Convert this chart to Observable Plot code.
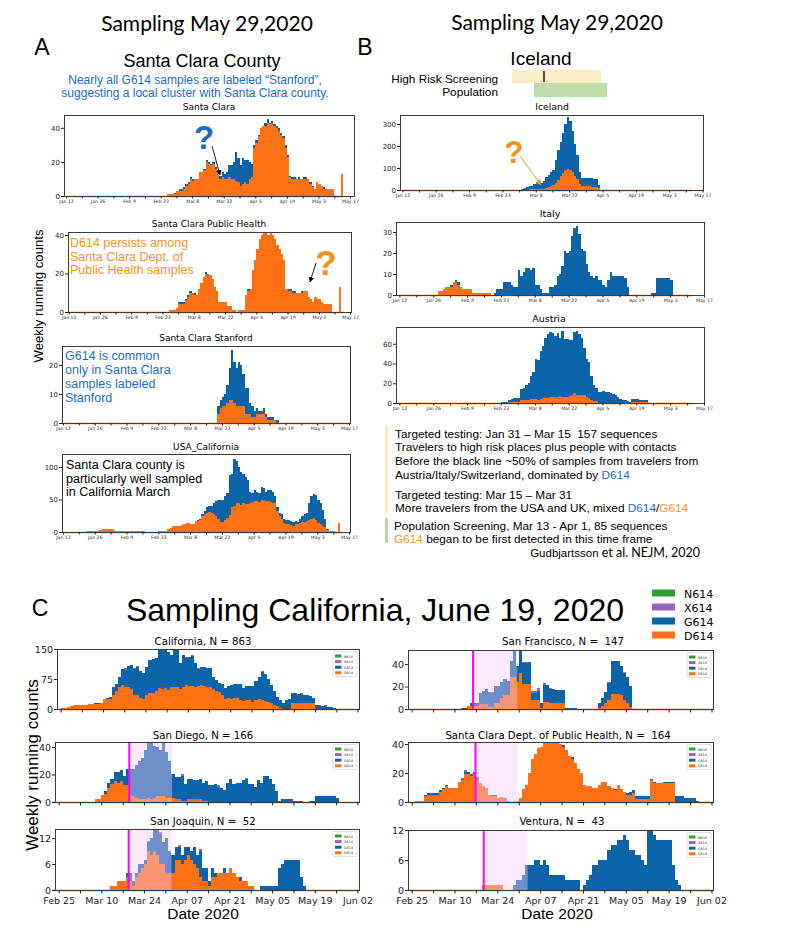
<!DOCTYPE html>
<html><head><meta charset="utf-8">
<script src="https://cdn.jsdelivr.net/npm/d3@7"></script>
<script src="https://cdn.jsdelivr.net/npm/@observablehq/plot@0.6"></script>
<style>
body{margin:0;background:#fff;}
#root{position:relative;width:807px;height:934px;overflow:hidden;background:#fff;}
#ov{position:absolute;left:0;top:0;pointer-events:none;}
</style></head><body><div id="root"></div>
<script>
const ORANGE="#fd7014", BLUE="#0a64a7", PURPLE="#9467bd", GREEN="#2ca02c";
const TXTBLUE="#1b6ec2", TXTORANGE="#f5921e";

// ---------- tick labels ----------
const tickLabelsAB=["Jan 12","Jan 26","Feb 9","Feb 23","Mar 8","Mar 22","Apr 5","Apr 19","May 3","May 17"];
const tickLabelsC=["Feb 25","Mar 10","Mar 24","Apr 07","Apr 21","May 05","May 19","Jun 02"];

// ---------- Panel A ----------
const scStart="2020-02-26";
const scTotal=[1,1,1,2,3,4,4,5,7,8, 11,10,10,10,14,14,16,21,20,19, 20,17,15,12,14,13,14,18,18,20, 26,22,18,22,21,21,20,19,30,33, 36,40,41,43,45,43,44,42,41,40, 37,35,30,24,12,11,11,10,11,10, 11,11,10,8,6,4,8,7,6,5, 4,4,4,4,0,0,0,13];
const scD614=[1,1,1,1,3,3,3,4,6,7, 10,9,10,10,14,14,15,20,19,18, 19,16,14,10,11,10,10,11,10,10, 9,8,6,7,8,7,10,11,28,31, 35,40,41,41,43,42,43,41,40,38, 36,34,28,23,11,10,10,10,10,10, 10,10,10,7,5,4,8,7,6,4, 4,4,4,4,0,0,0,13];

const scphStart="2020-02-26";
const scphTotal=[1,1,1,2,5,5,5,7,9,11, 10,10,9,12,15,18,21,20,19,17, 13,11,5,5,5,5,3,3,1,1, 0,1,1,1,9,12,12,22,27,33, 38,40,41,41,40,41,40,38,35,33, 30,27,12,12,12,11,11,10,10,11, 11,11,8,7,5,8,7,7,5,4, 4,4,4,0,0,0,13];
const scphD614=[1,1,1,2,4,4,4,6,8,10, 10,9,9,12,15,18,20,19,19,17, 13,11,5,5,5,5,3,3,1,1, 0,1,1,1,9,11,12,22,27,33, 38,40,41,41,40,41,40,38,35,33, 30,27,12,11,11,10,10,10,10,10, 11,11,8,7,5,8,7,7,5,4, 4,4,4,0,0,0,13];

const stanStart="2020-03-20";
const stanTotal=[6,8,9,10,13,19,25,21,19,21, 20,17,12,12,7,6,4,5,4,4, 5,3,2,2,2,1,1];
const stanD614=[3,5,6,6,7,8,8,7,6,6, 6,6,3,3,3,2,2,3,3,3, 3,2,1,1,1,1,0];

const usaStart="2020-01-22";
const usaTotal=[1,1,1,1,2,2,3,4,4,4, 4,4,3,2,1,1,1,1,1,1, 1,1,1,1,1,1,0,0,0,0, 0,0,1,1,1,2,4,6,9,10,
 10,10,11,12,14,14,13,13,17,18, 20,28,32,38,40,40,45,48,49,49, 50,55,60,88,90,112,110,100,93,90, 85,80,62,60,65,62,60,70,68,62,
 64,65,62,55,38,30,27,20,18,18, 17,16,17,15,20,25,28,30,45,55, 58,57,50,45,34,20,5,2,2,2, 0,14];
const usaD614=[1,1,1,1,2,2,3,4,4,4, 4,4,3,2,1,1,1,1,1,1, 1,1,1,1,1,1,0,0,0,0, 0,0,1,1,1,2,4,6,9,10,
 10,10,11,12,14,14,13,13,17,17, 18,25,28,30,31,29,27,24,20,15, 15,19,22,26,38,40,44,44,42,45, 43,43,45,46,48,48,46,50,49,47,
 47,46,45,44,32,24,20,14,12,12, 11,10,12,12,14,15,16,17,18,20, 21,18,14,12,10,8,3,1,1,1, 0,14];

// ---------- Panel B ----------
const icStart="2020-03-02";
const icTotal=[5,10,12,18,20,28,30,28,30,42, 60,68,80,90,135,180,220,260,300,330, 315,270,210,160,80,55,55,55,55,55, 52,50,25];
const icD614=[1,2,2,3,3,3,4,5,6,5, 10,15,20,25,32,45,62,78,90,95, 92,82,65,50,28,20,17,16,16,15, 13,12,8];

const itStart="2020-01-28";
const itTotal=[2,2,3,4,4,5,6,7,6,4, 3,3,3,3,1,1,1,1,1,1, 1,1,0,1,3,3,3,6,6,6, 5,4,4,12,9,11,13,13,12,13,
 5,5,3,1,1,1,4,4,5,9, 10,14,21,20,21,28,32,33,29,22, 21,15,11,9,8,9,7,7,5,4, 7,11,9,9,9,9,9,8,4,0,
 0,0,0,0,0,0,0,0,1,1, 8,8,8,8,8,8,7];
const itD614=[2,2,3,4,4,4,6,6,5,4, 3,3,3,3,1,1,1,1,1,1, 1,1];

const atStart="2020-02-23";
const atTotal=[1,1,1,3,4,5,5,5,14,15, 18,20,27,31,45,44,53,58,66,70, 72,71,68,71,66,73,65,65,64,64, 72,73,70,66,56,45,42,27,18,15, 11,11,12,11,11,10,9,8,6,4, 3,3,2,1,4,4,4,3,3,3, 3];
const atD614=[0,0,0,1,1,1,1,1,3,3, 3,3,4,4,4,3,4,5,5,5, 6,6,6,6,7,6,6,6,7,8, 10,8,8,8,8,6,5,3,2,2, 0,0,0,0,0,0,0,0,0,0, 0,0,0,0,1,1,1,1,1,1, 1];

// ---------- Panel C ----------
const calStart="2020-02-25";
const calTotal=[2,3,5,7,10,10,10,10,11,13, 13,14,14,15,25,28,30,55,62,80, 100,98,108,110,100,105,95,90,105,122, 125,128,150,150,148,142,135,150,150,115,
 135,128,130,133,115,100,105,105,103,103, 80,72,65,62,52,58,60,62,62,62, 52,58,58,57,70,80,92,88,75,60, 45,30,22,16,22,25,38,40,38,38, 36,34,33,27,10,10,8,8,6,5, 3,1];
const calD614=[2,3,5,7,10,10,10,10,11,12, 12,13,13,14,24,25,25,35,45,55, 60,55,55,50,35,35,28,25,35,40, 40,45,52,50,52,48,55,55,55,50,
 55,60,58,58,55,57,60,58,55,55, 50,45,42,35,25,28,25,28,28,22, 20,22,22,18,22,25,22,20,18,15, 10,8,3,0,0,0,14,14,14,14, 14,14,14,14,0,0,0,0,0,0, 0,0];
const calX614=[[21,2],[25,2],[29,1.5],[34,2],[41,2],[43,2],[45,1.5],[66,2],[76,2],[79,1.5],[87,1]];
const calN614=[[21,2],[24,2],[37,3]];

const sfStart="2020-03-12";
const sfTotal=[1,1,3,5,5,5,14,16,18,15, 14,20,20,24,27,25,43,52,38,52, 41,41,42,14,14,16,5,21,21,18, 18,17,17,17,1,1,1,1,0,0, 0,0,0,0,0,5,10,15,23,43, 43,43,38,32,28,20];
const sfD614=[0,0,3,3,3,3,4,4,4,2, 2,5,5,10,12,12,28,28,24,32, 22,22,22,8,8,8,1,6,6,5, 5,5,5,5,0,0,0,0,0,0, 0,0,0,0,0,1,3,5,8,13, 13,13,12,8,5,2];
const sfX614=[[26,1],[33,2],[35,1],[36,1],[37,1],[39,2],[40,2],[41,3],[43,1],[45,1],[64,1],[69,1]];
const sfN614=[[43,1]];

const sdStart="2020-03-08";
const sdTotal=[2,2,5,8,14,17,22,22,23,19, 24,24,24,27,30,32,38,44,44,41, 40,38,44,36,30,20,18,18,19,13, 17,17,16,16,17,14,15,12,12,13,
 11,10,9,14,17,13,14,14,16,17, 13,13,11,16,14,19,19,17,13,8, 1,2,2,2,2,1,1,1,0,0, 1,1,4,4,4,4,4,4,4,3];
const sdD614=[2,2,5,6,10,13,15,14,15,12, 12,5,4,3,2,2,2,3,2,3, 4,4,4,3,3,3,2,2,1,1, 2,2,2,2,2,1,1];
const sdX614=[[40,1],[52,1],[61,0.6]];

const scdStart="2020-02-26";
const scdTotal=[1,1,1,5,6,6,6,6,8,10, 12,10,10,10,14,16,21,21,19,20, 16,13,11,10,5,5,5,3,3,3, 1,0,1,1,3,9,12,20,30,33,
 37,38,41,41,41,41,41,40,39,36, 32,31,27,23,20,12,11,11,10,10, 12,14,14,11,10,9,12,9,7,6, 7,8,4,4,4,4,4,16,14,13, 13,14,14,14,14,4,4,4,3,3, 3,3,1];
const scdD614=[1,1,1,4,5,5,5,5,7,9, 11,10,10,10,14,15,19,19,18,19, 15,13,11,10,5,4,4,3,3,3, 1,0,1,1,3,9,12,20,30,33,
 37,38,41,41,41,41,41,40,38,36, 32,30,27,23,20,12,11,11,10,10, 12,14,14,11,10,8,12,9,7,5, 5,6,2,2,2,2,2,15,13,13, 13,13,13,13,13];
const scdX614=[[16,0.6],[17,1],[20,1],[21,1],[29,0.5]];

const sjStart="2020-03-13";
const sjTotal=[1,1,2,2,2,4,4,2,4,6, 6,7,11,12,14,14,13,11,12,9, 8,10,10,8,10,10,9,10,8,9, 5,5,2,5,4,4,4,5,4,5, 4,3,3,2,2,1,1,0,0,1, 1,1,1,1,1,5,6,7,7,7, 7,7,3,1];
const sjD614=[1,1,2,2,2,3,2,1,3,4, 5,6,9,8,9,8,6,6,4,4, 4,7,7,6,7,8,7,6,5,3, 2,2,1,3,3,4,4,4,4,5, 4,3,2,2,2,1,1];
const sjX614=[[29,0.4],[33,0.4],[39,0.4],[46,0.4]];

const vtStart="2020-03-19";
const vtTotal=[1,1,1,1,1,1,1,0,0,0, 1,2,2,3,5,5,5,6,6,5, 6,5,3,3,3,3,3,2,2,2, 2,2,0,1,2,3,5,5,6,6, 6,8,9,9,10,10,11,10,8,8, 7,7,6,5,12,12,11,10,10,10, 10,10,5,2,1];
const vtD614=[1,1,1,1,1,1,1];

// screening windows (days after Feb 25): order SF, San Diego, SC DPH, San Joaquin, Ventura
const shadeStartDay=[19.9,23.0,20.7,22.8,23.4];
const shadeEndDay=[34.5,37.2,34.7,37.0,37.9];

// ---------- helpers ----------
const baseAB=new Date(Date.UTC(2020,0,12));
const baseC=new Date(Date.UTC(2020,1,25));
const parseLab=d3.utcParse("%b %e %Y");
const dayOfISO=(s,base)=>d3.utcDay.count(base,new Date(s+"T00:00:00Z"));
const dayOfLab=(l,base)=>d3.utcDay.count(base,parseLab(l+" 2020"));
const series=(start,base,vals)=>{const s=dayOfISO(start,base);return vals.map((v,i)=>({d:s+i,v}));};
function capsOf(total,start,base,caps,below){
  const s=dayOfISO(start,base);
  const extra=new Map((below||[]).map(([d,a])=>[d,a]));
  return caps.map(([d,a])=>{const y1=total[d-s]+(extra.get(d)||0);return {d,y1,y2:y1+a};});
}
const root=document.getElementById("root");

function panel(c){
  const [fx0,fy0,fx1,fy1]=c.frame;
  const mL=30,mR=6,mT=6,mB=22;
  const tickDays=c.labels.map(l=>dayOfLab(l,c.base));
  const lab=new Map(tickDays.map((d,i)=>[d,c.labels[i]]));
  const weekly=d3.range(tickDays[0],tickDays[tickDays.length-1]+0.5,7);
  const marks=[];
  marks.push(Plot.ruleY([0],{x1:()=>c.baseRange[0],x2:()=>c.baseRange[1],stroke:ORANGE,strokeWidth:1.4}));
  for(const L of c.layers) marks.push(Plot.rect(L.data,{x1:"d",x2:d=>d.d+1,y1:()=>0,y2:"v",fill:L.fill,shapeRendering:"crispEdges",clip:true}));
  for(const C of (c.caps||[])) marks.push(Plot.rect(C.data,{x1:"d",x2:d=>d.d+1,y1:"y1",y2:"y2",fill:C.fill,shapeRendering:"crispEdges",clip:true}));
  if(c.shade){
    marks.push(Plot.rect([c.shade],{x1:d=>d[0],x2:d=>d[1],fill:"#fac8fa",fillOpacity:0.42}));
    marks.push(Plot.ruleX([c.shade[0]],{stroke:"#ff00ff",strokeWidth:2}));
  }
  marks.push(Plot.frame({stroke:"#3c3c3c",strokeWidth:1}));
  marks.push(Plot.axisY({ticks:c.yticks,tickSize:3,tickPadding:1.5,fontSize:c.yfs,label:null,tickFormat:d=>String(d)}));
  marks.push(Plot.axisX({ticks:weekly,tickSize:c.xts,tickPadding:c.xpad,fontSize:c.xfs,label:null,
    tickFormat:d=>c.showX===false?"":(lab.get(d)||"")}));
  const svg=Plot.plot({width:fx1-fx0+mL+mR,height:fy1-fy0+mT+mB,marginLeft:mL,marginRight:mR,marginTop:mT,marginBottom:mB,
    x:{domain:c.xdom,label:null},y:{domain:c.ydom,label:null},
    style:{background:"transparent",overflow:"visible",color:"#222",fontFamily:"DejaVu Sans, sans-serif"},marks});
  svg.style.position="absolute";svg.style.left=(fx0-mL)+"px";svg.style.top=(fy0-mT)+"px";
  root.appendChild(svg);
}
const two=(tot,d,start,base)=>[{data:series(start,base,tot),fill:BLUE},{data:series(start,base,d),fill:ORANGE}];

// Panel A
const abCommon={labels:tickLabelsAB,base:baseAB,xfs:4.6,yfs:7,xts:2.5,xpad:1,baseRange:[0,123]};
panel({...abCommon,frame:[64,115,354,196],xdom:[-0.9,127.8],ydom:[0,47.5],yticks:[0,20,40],layers:two(scTotal,scD614,scStart,baseAB)});
panel({...abCommon,frame:[68,232,351,312],xdom:[-0.3,126.4],ydom:[0,41.6],yticks:[0,20,40],layers:two(scphTotal,scphD614,scphStart,baseAB)});
panel({...abCommon,frame:[62,346,350,423],xdom:[-0.4,126.4],ydom:[0,26.5],yticks:[0,10,20],layers:two(stanTotal,stanD614,stanStart,baseAB),baseRange:[0,126]});
panel({...abCommon,frame:[62,454,350,532],xdom:[-0.4,126.4],ydom:[0,120],yticks:[0,50,100],layers:two(usaTotal,usaD614,usaStart,baseAB)});
// Panel B
panel({...abCommon,frame:[400,115,703,190],xdom:[-1,126.2],ydom:[0,341],yticks:[0,100,200,300],layers:two(icTotal,icD614,icStart,baseAB),baseRange:[0,121.5]});
panel({...abCommon,frame:[396,222,704,295],xdom:[-1.4,126],ydom:[0,34.8],yticks:[0,10,20,30],layers:two(itTotal,itD614,itStart,baseAB),baseRange:[0,121.5]});
panel({...abCommon,frame:[396,327,704,403],xdom:[-1.4,126],ydom:[0,77],yticks:[0,20,40,60],layers:two(atTotal,atD614,atStart,baseAB),baseRange:[0,121.5]});
// Panel C
const cCommon={labels:tickLabelsC,base:baseC,xfs:9.5,yfs:9.5,xts:3.5,xpad:3,xdom:[-1.2,98.5],baseRange:[-1.2,98.5]};
panel({...cCommon,frame:[57,649,359,709],ydom:[0,150],yticks:[0,75,150],showX:false,layers:two(calTotal,calD614,calStart,baseC),
  caps:[{data:capsOf(calTotal,calStart,baseC,calX614),fill:PURPLE},{data:capsOf(calTotal,calStart,baseC,calN614,calX614),fill:GREEN}]});
panel({...cCommon,frame:[408,650,713,709],ydom:[0,52.4],yticks:[0,20,40],showX:false,layers:two(sfTotal,sfD614,sfStart,baseC),
  caps:[{data:capsOf(sfTotal,sfStart,baseC,sfX614),fill:PURPLE},{data:capsOf(sfTotal,sfStart,baseC,sfN614,sfX614),fill:GREEN}],shade:[shadeStartDay[0],shadeEndDay[0]]});
panel({...cCommon,frame:[55,742,359,802],ydom:[0,43.6],yticks:[0,20,40],showX:false,layers:two(sdTotal,sdD614,sdStart,baseC),
  caps:[{data:capsOf(sdTotal,sdStart,baseC,sdX614),fill:PURPLE}],shade:[shadeStartDay[1],shadeEndDay[1]]});
panel({...cCommon,frame:[408,742,713,802],ydom:[0,41.4],yticks:[0,20,40],showX:false,layers:two(scdTotal,scdD614,scdStart,baseC),
  caps:[{data:capsOf(scdTotal,scdStart,baseC,scdX614),fill:PURPLE}],shade:[shadeStartDay[2],shadeEndDay[2]]});
panel({...cCommon,frame:[55,829,359,890],ydom:[0,14.1],yticks:[0,6,12],layers:two(sjTotal,sjD614,sjStart,baseC),
  caps:[{data:capsOf(sjTotal,sjStart,baseC,sjX614),fill:PURPLE}],shade:[shadeStartDay[3],shadeEndDay[3]]});
panel({...cCommon,frame:[408,830,713,890],ydom:[0,12],yticks:[0,6,12],layers:two(vtTotal,vtD614,vtStart,baseC),shade:[shadeStartDay[4],shadeEndDay[4]]});

// ---------- overlay text ----------
const ov=d3.select(root).append("svg").attr("id","ov").attr("width",807).attr("height",934);
const defs=ov.append("defs");
[["ahk","#000"],["aho",TXTORANGE]].forEach(([id,col])=>defs.append("marker").attr("id",id).attr("viewBox","0 0 10 10").attr("refX",9).attr("refY",5)
  .attr("markerWidth",6).attr("markerHeight",6).attr("orient","auto").append("path").attr("d","M0,0L10,5L0,10z").attr("fill",col));
const ARIAL="Liberation Sans, Arial, sans-serif", DJV="DejaVu Sans, sans-serif", LATO="Lato, sans-serif";
function txt(x,y,s,o={}){
  const t=ov.append("text").attr("x",x).attr("y",y).attr("font-family",o.f||ARIAL).attr("font-size",o.s||12)
    .attr("fill",o.c||"#000").attr("text-anchor",o.a||"start").style("white-space","pre");
  if(o.w) t.attr("font-weight",o.w);
  if(o.r) t.attr("transform",`rotate(${o.r},${x},${y})`);
  if(Array.isArray(s)) s.forEach(([str,col,fam,sz])=>{const ts=t.append("tspan").text(str);if(col)ts.attr("fill",col);if(fam)ts.attr("font-family",fam);if(sz)ts.attr("font-size",sz);});
  else t.text(s);
  return t;
}
// headers
txt(207,31,"Sampling May 29,2020",{f:LATO,s:21,a:"middle"});
txt(557,29.5,"Sampling May 29,2020",{f:LATO,s:21,a:"middle"});
txt(42,55,"A",{s:23,a:"middle"});
txt(365,55,"B",{s:23,a:"middle"});
txt(202,66.5,"Santa Clara County",{s:18,a:"middle"});
txt(195,83.5,"Nearly all G614 samples are labeled “Stanford”,",{s:12,a:"middle",c:TXTBLUE});
txt(195,97,"suggesting a local cluster with Santa Clara county.",{s:12,a:"middle",c:TXTBLUE});
// panel A titles
txt(209,110,"Santa Clara",{f:DJV,s:9,a:"middle"});
txt(209,227,"Santa Clara Public Health",{f:DJV,s:9,a:"middle"});
txt(206,341,"Santa Clara Stanford",{f:DJV,s:9,a:"middle"});
txt(206,450,"USA_California",{f:DJV,s:9,a:"middle"});
// annotations A
txt(70,247,"D614 persists among",{s:12.5,c:TXTORANGE});
txt(70,260.5,"Santa Clara Dept. of",{s:12.5,c:TXTORANGE});
txt(70,274,"Public Health samples",{s:12.5,c:TXTORANGE});
txt(65,360,"G614 is common",{s:12.5,c:TXTBLUE});
txt(65,374,"only in Santa Clara",{s:12.5,c:TXTBLUE});
txt(65,387.5,"samples labeled",{s:12.5,c:TXTBLUE});
txt(65,401.5,"Stanford",{s:12.5,c:TXTBLUE});
txt(66,468.5,"Santa Clara county is",{s:12.5});
txt(66,482.5,"particularly well sampled",{s:12.5});
txt(66,496,"in California March",{s:12.5});
txt(43,296,"Weekly running counts",{s:13.2,a:"middle",r:-90});
txt(204,149,"?",{s:33,w:"bold",a:"middle",c:TXTBLUE});
ov.append("line").attr("x1",212).attr("y1",146).attr("x2",220).attr("y2",175).attr("stroke","#000").attr("stroke-width",0.9).attr("marker-end","url(#ahk)");
txt(326,275,"?",{s:35,w:"bold",a:"middle",c:TXTORANGE});
ov.append("line").attr("x1",316).attr("y1",263).attr("x2",310).attr("y2",282).attr("stroke","#000").attr("stroke-width",0.9).attr("marker-end","url(#ahk)");
// panel B header
txt(541,65,"Iceland",{s:19,a:"middle"});
txt(498,82.5,"High Risk Screening",{s:11.8,a:"end"});
txt(498,96,"Population",{s:11.8,a:"end"});
ov.append("rect").attr("x",512).attr("y",70).attr("width",89).attr("height",13).attr("fill","#fdedc5");
ov.append("rect").attr("x",534).attr("y",83).attr("width",73).attr("height",14).attr("fill","#bfdcab");
ov.append("line").attr("x1",544).attr("y1",71).attr("x2",544).attr("y2",82).attr("stroke","#000").attr("stroke-width",1.3);
txt(552,110,"Iceland",{f:DJV,s:9.3,a:"middle"});
txt(550,216.5,"Italy",{f:DJV,s:9.5,a:"middle"});
txt(549,321.5,"Austria",{f:DJV,s:9.5,a:"middle"});
txt(514,163,"?",{s:31,w:"bold",a:"middle",c:TXTORANGE});
ov.append("line").attr("x1",520).attr("y1",156).attr("x2",541).attr("y2",185).attr("stroke",TXTORANGE).attr("stroke-width",1).attr("marker-end","url(#aho)");
// panel B notes
ov.append("rect").attr("x",385).attr("y",426).attr("width",3).attr("height",87).attr("fill","#fde9bd");
ov.append("rect").attr("x",385).attr("y",518).attr("width",3).attr("height",25).attr("fill","#b5d9a2");
const NS=11.8;
txt(395,437.5,"Targeted testing: Jan 31 – Mar 15  157 sequences",{s:NS});
txt(395,451,"Travelers to high risk places plus people with contacts",{s:NS});
txt(395,464.5,"Before the black line ~50% of samples from travelers from",{s:NS});
txt(395,478.5,[["Austria/Italy/Switzerland, dominated by "],["D614",TXTBLUE]],{s:NS});
txt(395,498.5,"Targeted testing: Mar 15 – Mar 31",{s:NS});
txt(395,512,[["More travelers from the USA and UK, mixed "],["D614",TXTBLUE],["/"],["G614",TXTORANGE]],{s:NS});
txt(394,529.5,"Population Screening, Mar 13 - Apr 1, 85 sequences",{s:NS});
txt(394,543,[["G614",TXTORANGE],[" began to be first detected in this time frame"]],{s:NS});
txt(700,557,[["Gudbjartsson",null,ARIAL,11.5],[" et al. NEJM, 2020",null,LATO,12.5]],{s:NS,a:"end"});
// panel C header
txt(40,616,"C",{s:23,a:"middle"});
txt(375,620.5,"Sampling California, June 19, 2020",{s:32,a:"middle"});
const legNames=["N614","X614","G614","D614"], legCols=[GREEN,PURPLE,BLUE,ORANGE];
legNames.forEach((n,i)=>{
  ov.append("rect").attr("x",652).attr("y",589.5+i*14).attr("width",23).attr("height",7).attr("fill",legCols[i]);
  txt(684,597.5+i*14,n,{f:DJV,s:11});
});
// subplot titles C
txt(203,645,"California, N = 863",{f:DJV,s:10.2,a:"middle"});
txt(563,645,"San Francisco, N =  147",{f:DJV,s:10.2,a:"middle"});
txt(203,738.5,"San Diego, N = 166",{f:DJV,s:10.2,a:"middle"});
txt(558,738.5,"Santa Clara Dept. of Public Health, N =  164",{f:DJV,s:10.2,a:"middle"});
txt(203,825,"San Joaquin, N =  52",{f:DJV,s:10.2,a:"middle"});
txt(562,825,"Ventura, N =  43",{f:DJV,s:10.2,a:"middle"});
txt(38,765,"Weekly running counts",{s:17,a:"middle",r:-90});
txt(203,918.5,"Date 2020",{s:15.5,a:"middle"});
txt(557,918.5,"Date 2020",{s:15.5,a:"middle"});
// tiny in-plot legends
[[359,649],[713,650],[359,742],[713,742],[359,829],[713,830]].forEach(([rx,ty])=>{
  const bx=rx-26,by=ty+2.5;
  ov.append("rect").attr("x",bx).attr("y",by).attr("width",24).attr("height",25).attr("fill","#fff").attr("stroke","#ccc").attr("stroke-width",0.6).attr("rx",1);
  legNames.forEach((n,i)=>{
    ov.append("rect").attr("x",bx+2).attr("y",by+3+i*5.6).attr("width",6.5).attr("height",3).attr("fill",legCols[i]);
    txt(bx+11,by+6+i*5.6,n,{f:DJV,s:3.4,c:"#333"});
  });
});
</script></body></html>
